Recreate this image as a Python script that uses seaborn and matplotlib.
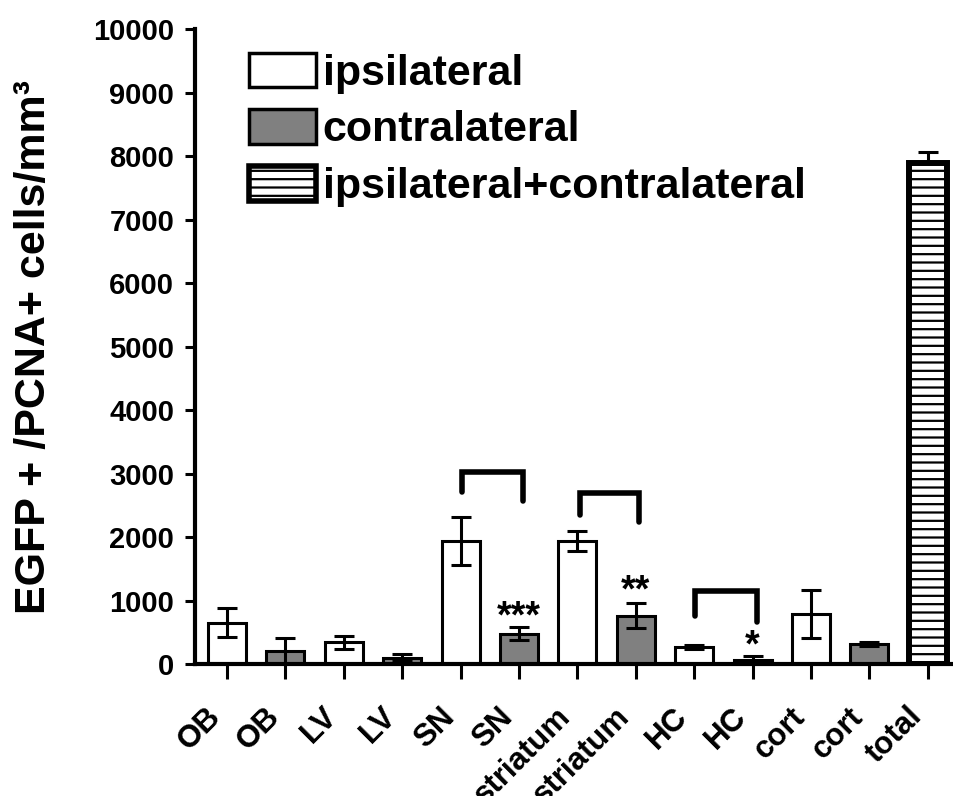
import pandas as pd
import matplotlib
matplotlib.use('Agg')
import matplotlib.pyplot as plt
import seaborn as sns
from matplotlib.patches import Patch

# values (cells/mm3, mean and error)
regions = ['OB', 'OB', 'LV', 'LV', 'SN', 'SN', 'striatum', 'striatum',
           'HC', 'HC', 'cort', 'cort', 'total']
sides = ['ipsilateral', 'contralateral'] * 6 + ['ipsilateral+contralateral']
means = [650, 200, 340, 100, 1940, 480, 1940, 760, 270, 60, 790, 310, 7900]
errs = [230, 210, 100, 60, 380, 100, 160, 195, 30, 60, 380, 30, 170]

# significance marks
star_idx = [5, 7, 9]
star_text = ['***', '**', '*']
star_y = [730, 1150, 270]

# comparison brackets (left x, right x, top, left end, right end)
br_left = [4.03, 6.04, 8.02]
br_right = [5.07, 7.06, 9.08]
br_top = [3020, 2690, 1145]
br_left_end = [2707, 2340, 762]
br_right_end = [2575, 2233, 656]

colors = {'ipsilateral': 'white', 'contralateral': '#808080',
          'ipsilateral+contralateral': 'white'}

df = pd.DataFrame({'key': [f'{r}_{i}' for i, r in enumerate(regions)],
                   'region': regions, 'side': sides,
                   'mean': means, 'err': errs})

sns.set_style('ticks')
plt.rcParams['font.family'] = ['Liberation Sans', 'DejaVu Sans']
plt.rcParams['font.weight'] = 'bold'
plt.rcParams['hatch.linewidth'] = 1.6
for k in ['text.color', 'axes.labelcolor', 'xtick.color', 'ytick.color', 'axes.edgecolor']:
    plt.rcParams[k] = 'black'

fig = plt.figure(figsize=(9.54, 7.96), dpi=100)
ax = fig.add_axes([0.2044, 0.1658, 0.7956, 0.7974])

sns.barplot(data=df, x='key', y='mean', hue='side', palette=colors,
            dodge=False, width=0.65, edgecolor='black', linewidth=2.2,
            legend=False, ax=ax, zorder=2)

# hatch the total bar
for p in ax.patches:
    cx = p.get_x() + p.get_width() / 2
    if abs(cx - 12) < 0.1:
        p.set_hatch('--')
        p.set_linewidth(4.3)

lower = df['err'].copy()
lower.iloc[-1] = 0
ax.errorbar(range(len(df)), df['mean'], yerr=[lower, df['err']], fmt='none',
            ecolor='black', elinewidth=2.2, capsize=7.2, capthick=2.2, zorder=3)

for i, t, y in zip(star_idx, star_text, star_y):
    ax.text(i, y, t, ha='center', va='center', fontsize=27, fontweight='bold')

for x0, x1, top, l, r in zip(br_left, br_right, br_top, br_left_end, br_right_end):
    ax.plot([x0, x0, x1, x1], [l, top, top, r], color='black', lw=4,
            solid_joinstyle='miter', zorder=3)

ax.set_ylim(0, 10000)
ax.set_xlim(-0.548, 12.45)
ax.set_yticks(range(0, 10001, 1000))
ax.set_xticks(range(len(df)))
ax.set_xticklabels(regions, rotation=45, ha='right', va='top',
                   fontsize=22.5, fontweight='bold')
ax.tick_params(axis='y', labelsize=21, width=2.2, length=7, pad=8)
ax.tick_params(axis='x', width=2.2, length=11, pad=16)
for lab in ax.get_yticklabels():
    lab.set_fontweight('bold')
ax.set_xlabel('')
ax.set_ylabel('EGFP + /PCNA+ cells/mm³', fontsize=31, fontweight='bold', labelpad=28)

sns.despine(ax=ax)
ax.spines['left'].set_linewidth(3)
ax.spines['bottom'].set_linewidth(3)

handles = [Patch(facecolor='white', edgecolor='black', linewidth=2.5, label='ipsilateral'),
           Patch(facecolor='#808080', edgecolor='black', linewidth=2.5, label='contralateral'),
           Patch(facecolor='white', edgecolor='black', linewidth=4, hatch='--',
                 label='ipsilateral+contralateral')]
ax.legend(handles=handles, loc='upper left', bbox_to_anchor=(0.261, 0.934),
          bbox_transform=fig.transFigure, frameon=False,
          borderpad=0, handlelength=1.56, handleheight=0.86,
          handletextpad=0.15, labelspacing=0.36, borderaxespad=0,
          prop={'weight': 'bold', 'size': 31})

fig.savefig('out.png', dpi=100)
